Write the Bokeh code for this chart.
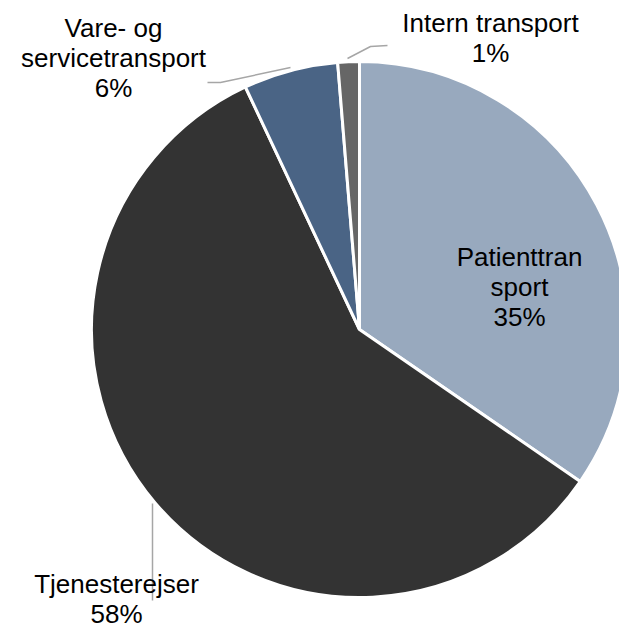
import math
from bokeh.plotting import figure
from bokeh.models import Range1d, ColumnDataSource
from bokeh.core.properties import value
from bokeh.embed import file_html
from bokeh.resources import INLINE

# ---- data ----
categories = ["Patienttransport", "Tjenesterejser", "Vare- og servicetransport", "Intern transport"]
shares = [34.6, 58.4, 5.7, 1.3]
colors = ["#98A9BE", "#333333", "#4A6485", "#666666"]
label_lines = [["Patienttran", "sport"], ["Tjenesterejser"], ["Vare- og", "servicetransport"], ["Intern transport"]]

# ---- layout (pixel-like data space, y up) ----
W, H = 619, 629
def Y(py):
    return H - py

cx, cy, R = 359, Y(329), 268
label_pos = [(519, 256), (116, 583), (113, 27), (490, 22)]
line_gap = 30
leaders = [None, ([152, 152], [503, 600]), ([207, 220, 290], [82, 82, 67]), ([347, 370, 387], [58, 46, 45])]

p = figure(width=W, height=H, output_backend="svg", toolbar_location=None,
           x_range=Range1d(0, W), y_range=Range1d(0, H),
           min_border=0)
p.axis.visible = False
p.grid.visible = False
p.outline_line_color = None
p.background_fill_color = "white"
p.border_fill_color = "white"

total = sum(shares)
starts, ends = [], []
cum = 0.0
for s in shares:
    starts.append(math.pi / 2 - cum / total * 2 * math.pi)
    cum += s
    ends.append(math.pi / 2 - cum / total * 2 * math.pi)

src = ColumnDataSource(dict(start=starts, end=ends, color=colors))
p.wedge(x=cx, y=cy, radius=R, start_angle="start", end_angle="end", direction="clock",
        fill_color="color", line_color="white", line_width=3, source=src)

for ld in leaders:
    if ld:
        p.line(x=ld[0], y=[Y(v) for v in ld[1]], line_color="#A6A6A6", line_width=1.5)

tx, ty, tt = [], [], []
for lines, s, (lx, ly) in zip(label_lines, shares, label_pos):
    allines = lines + [f"{round(s)}%"]
    for i, t in enumerate(allines):
        tx.append(lx)
        ty.append(Y(ly + i * line_gap))
        tt.append(t)

p.text(x=tx, y=ty, text=tt, text_align="center", text_baseline="middle",
       text_font=value("Liberation Sans"), text_font_size="26px", text_color="#000000")

open("out.html", "w").write(file_html(p, INLINE))
